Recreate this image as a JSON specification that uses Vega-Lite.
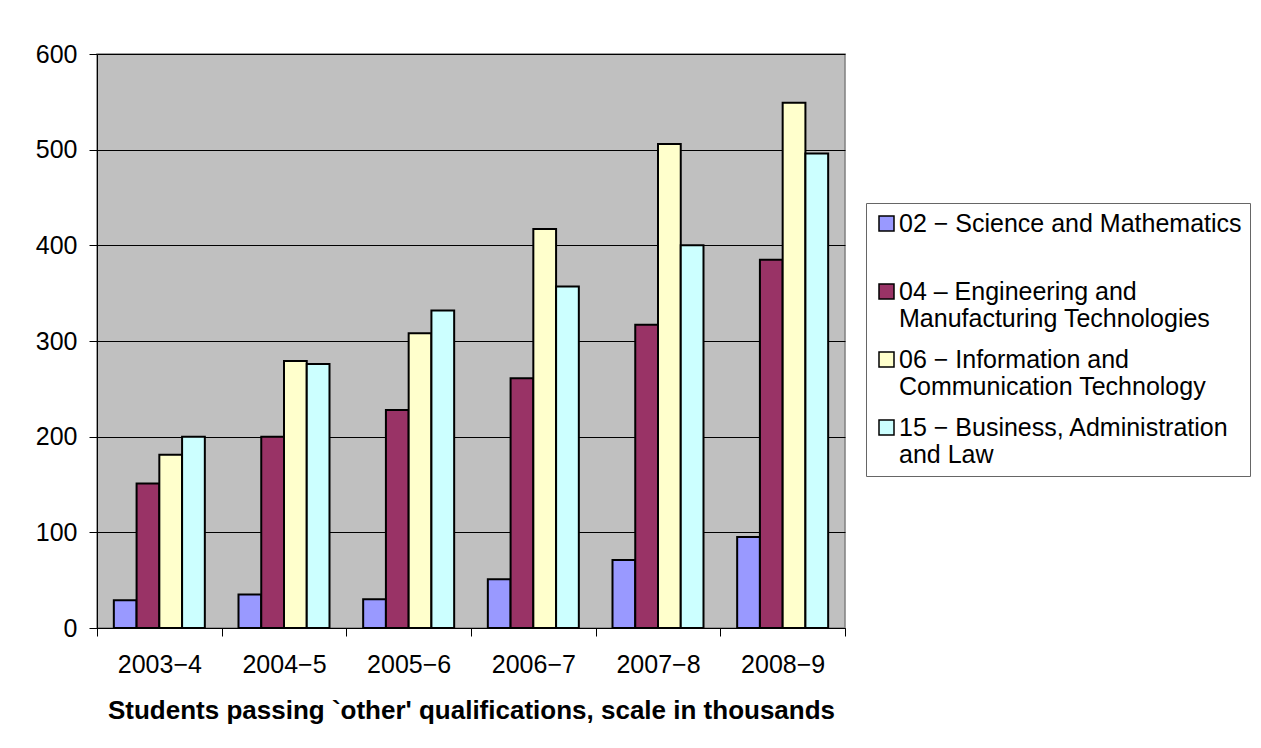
{
  "$schema": "https://vega.github.io/schema/vega-lite/v6.json",
  "width": 748,
  "height": 574,
  "autosize": {"type": "none"},
  "padding": {"left": 97, "top": 54, "right": 416, "bottom": 120},
  "background": "white",
  "config": {
    "font": "Liberation Sans",
    "view": {"fill": "#C0C0C0", "stroke": "#808080", "strokeWidth": 1.5}
  },
  "data": {
    "values": [
      {"year": "2003−4", "subject": "02 − Science and Mathematics", "value": 29},
      {"year": "2003−4", "subject": "04 – Engineering and Manufacturing Technologies", "value": 151},
      {"year": "2003−4", "subject": "06 − Information and Communication Technology", "value": 181},
      {"year": "2003−4", "subject": "15 − Business, Administration and Law", "value": 200},
      {"year": "2004−5", "subject": "02 − Science and Mathematics", "value": 35},
      {"year": "2004−5", "subject": "04 – Engineering and Manufacturing Technologies", "value": 200},
      {"year": "2004−5", "subject": "06 − Information and Communication Technology", "value": 279},
      {"year": "2004−5", "subject": "15 − Business, Administration and Law", "value": 276},
      {"year": "2005−6", "subject": "02 − Science and Mathematics", "value": 30},
      {"year": "2005−6", "subject": "04 – Engineering and Manufacturing Technologies", "value": 228},
      {"year": "2005−6", "subject": "06 − Information and Communication Technology", "value": 308},
      {"year": "2005−6", "subject": "15 − Business, Administration and Law", "value": 332},
      {"year": "2006−7", "subject": "02 − Science and Mathematics", "value": 51},
      {"year": "2006−7", "subject": "04 – Engineering and Manufacturing Technologies", "value": 261},
      {"year": "2006−7", "subject": "06 − Information and Communication Technology", "value": 417},
      {"year": "2006−7", "subject": "15 − Business, Administration and Law", "value": 357},
      {"year": "2007−8", "subject": "02 − Science and Mathematics", "value": 71},
      {"year": "2007−8", "subject": "04 – Engineering and Manufacturing Technologies", "value": 317},
      {"year": "2007−8", "subject": "06 − Information and Communication Technology", "value": 506},
      {"year": "2007−8", "subject": "15 − Business, Administration and Law", "value": 400},
      {"year": "2008−9", "subject": "02 − Science and Mathematics", "value": 95},
      {"year": "2008−9", "subject": "04 – Engineering and Manufacturing Technologies", "value": 385},
      {"year": "2008−9", "subject": "06 − Information and Communication Technology", "value": 549},
      {"year": "2008−9", "subject": "15 − Business, Administration and Law", "value": 496}
    ]
  },
  "mark": {"type": "bar", "stroke": "black", "strokeWidth": 2},
  "encoding": {
    "x": {
      "field": "year",
      "type": "nominal",
      "sort": null,
      "scale": {"paddingInner": 0, "paddingOuter": 0},
      "axis": {
        "title": "Students passing `other' qualifications, scale in thousands",
        "titleFontSize": 26,
        "titleFontWeight": "bold",
        "titleColor": "black",
        "titlePadding": 20,
        "labelFontSize": 25,
        "labelColor": "black",
        "labelPadding": 16,
        "labelAngle": 0,
        "tickSize": 8,
        "tickColor": "black",
        "tickBand": "extent",
        "domainColor": "black",
        "grid": false
      }
    },
    "xOffset": {
      "field": "subject",
      "type": "nominal",
      "scale": {"paddingInner": 0, "paddingOuter": 0.74}
    },
    "y": {
      "field": "value",
      "type": "quantitative",
      "scale": {"domain": [0, 600]},
      "axis": {
        "title": null,
        "values": [0, 100, 200, 300, 400, 500, 600],
        "labelFontSize": 25,
        "labelColor": "black",
        "labelPadding": 12,
        "tickSize": 8,
        "tickColor": "black",
        "domainColor": "black",
        "grid": true,
        "gridColor": "black",
        "gridOpacity": 1
      }
    },
    "color": {
      "field": "subject",
      "type": "nominal",
      "scale": {
        "domain": [
          "02 − Science and Mathematics",
          "04 – Engineering and Manufacturing Technologies",
          "06 − Information and Communication Technology",
          "15 − Business, Administration and Law"
        ],
        "range": ["#9999FF", "#993366", "#FFFFCC", "#CCFFFF"]
      },
      "legend": {
        "title": null,
        "orient": "none",
        "legendX": 769,
        "legendY": 149,
        "padding": 8,
        "rowPadding": 15,
        "strokeColor": "#666666",
        "fillColor": "white",
        "symbolType": "square",
        "symbolSize": 225,
        "symbolStrokeColor": "black",
        "symbolStrokeWidth": 1.5,
        "symbolOpacity": 1,
        "labelFontSize": 25,
        "labelColor": "black",
        "labelLimit": 500,
        "labelOffset": 0,
        "labelExpr": "indexof(datum.label,'04')==0 ? ['04 – Engineering and','Manufacturing Technologies'] : indexof(datum.label,'06')==0 ? ['06 − Information and','Communication Technology'] : indexof(datum.label,'15')==0 ? ['15 − Business, Administration','and Law'] : [datum.label, '']",
        "encode": {
          "labels": {"update": {"dy": {"value": 0}, "lineHeight": {"value": 27}}}
        }
      }
    }
  }
}
